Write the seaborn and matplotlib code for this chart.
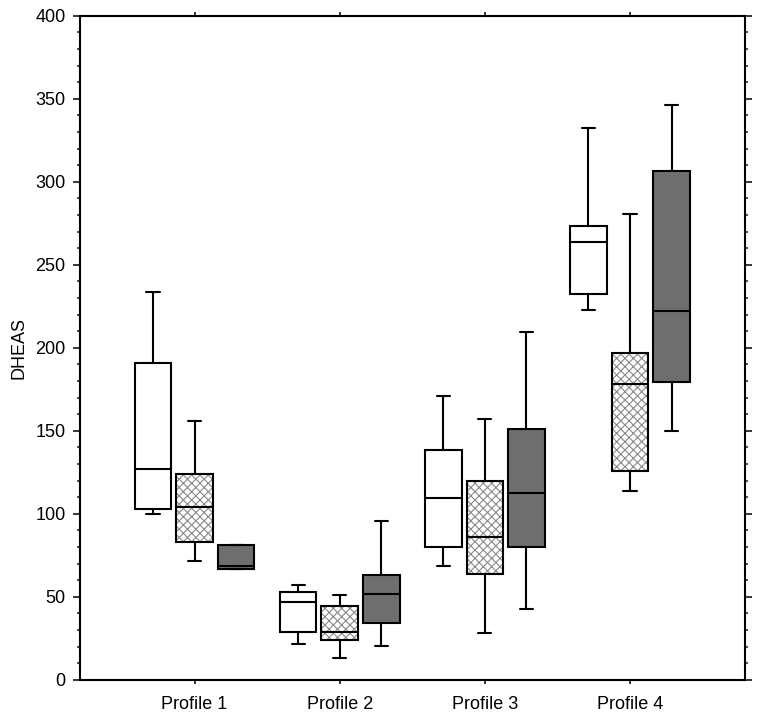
import numpy as np
import pandas as pd
import matplotlib
matplotlib.use('Agg')
import matplotlib.pyplot as plt
from matplotlib.patches import PathPatch
from matplotlib.ticker import MultipleLocator
import seaborn as sns

# categories and the three groups per profile
profiles = ['Profile 1', 'Profile 2', 'Profile 3', 'Profile 4']
groups = ['Group 1', 'Group 2', 'Group 3']

# five-number summaries: min, q1, median, q3, max
group1 = [[100.0, 103.0, 126.9, 190.8, 233.5],
          [21.7, 28.9, 46.6, 52.8, 57.2],
          [68.7, 80.1, 109.4, 138.6, 170.7],
          [222.9, 232.5, 263.7, 273.1, 332.5]]
group2 = [[71.7, 83.0, 104.0, 124.0, 156.0],
          [13.2, 23.7, 28.9, 44.6, 50.8],
          [27.9, 63.4, 86.1, 119.7, 157.0],
          [113.5, 125.9, 178.1, 196.8, 280.3]]
group3 = [[66.5, 66.5, 68.7, 80.9, 80.9],
          [20.5, 34.1, 51.8, 63.2, 95.8],
          [42.6, 80.1, 112.5, 151.0, 209.4],
          [150.0, 179.1, 222.1, 306.4, 346.0]]

rows = []
for g, summ in zip(groups, [group1, group2, group3]):
    for p, vals in zip(profiles, summ):
        for v in vals:
            rows.append({'profile': p, 'group': g, 'DHEAS': v})
df = pd.DataFrame(rows)

sns.set_theme(style='ticks')
plt.rcParams['font.family'] = ['Liberation Sans', 'DejaVu Sans']
plt.rcParams['hatch.linewidth'] = 0.8
plt.rcParams['text.color'] = 'black'
plt.rcParams['axes.labelcolor'] = 'black'

fig = plt.figure(figsize=(7.64, 7.21), dpi=100)
ax = fig.add_axes([79.5 / 764, (721 - 679.7) / 721, (745 - 79.5) / 764, (679.7 - 15.7) / 721])

sns.boxplot(data=df, x='profile', y='DHEAS', hue='group', order=profiles,
            hue_order=groups, whis=(0, 100), width=0.86, gap=0.12,
            palette=['white', 'white', '#6e6e6e'], linecolor='black',
            linewidth=1.5, saturation=1, fliersize=0, legend=False, ax=ax)

# hatch the middle boxes (gray cross-hatch, black outline on top)
box_w = 0.86 / 3 * (1 - 0.12)
for patch in list(ax.patches):
    verts = patch.get_path().vertices
    xc = verts[:, 0].mean()
    if abs(xc - round(xc)) < 0.05:
        patch.set_edgecolor('#8a8a8a')
        patch.set_hatch('xxxx')
        patch.set_linewidth(0)
        outline = PathPatch(patch.get_path(), transform=patch.get_transform(),
                            fill=False, edgecolor='black', linewidth=1.5,
                            zorder=patch.get_zorder() + 0.05)
        ax.add_patch(outline)

# shorter caps
for line in ax.lines:
    x = np.asarray(line.get_xdata(), dtype=float)
    y = np.asarray(line.get_ydata(), dtype=float)
    if len(x) == 2 and y[0] == y[1] and abs(x[1] - x[0]) < 0.8 * box_w:
        xc = x.mean()
        half = 0.36 * box_w / 2
        line.set_xdata([xc - half, xc + half])

ax.set_xlim(-0.793, 3.793)
ax.set_ylim(0, 400)
ax.yaxis.set_major_locator(MultipleLocator(50))
ax.yaxis.set_minor_locator(MultipleLocator(10))

for side in ['left', 'right', 'top', 'bottom']:
    ax.spines[side].set_visible(True)
    ax.spines[side].set_linewidth(1.5)
    ax.spines[side].set_color('black')

ax.tick_params(axis='y', which='major', direction='out', length=5, width=1.1,
               left=True, right=True, labelsize=13, pad=5, colors='black')
ax.tick_params(axis='y', which='minor', direction='out', length=2.5, width=1.1,
               left=True, right=True)
ax.tick_params(axis='x', which='major', direction='out', length=3, width=1.1,
               top=True, bottom=True, labelsize=13, pad=9, colors='black')
ax.tick_params(axis='x', which='minor', top=False, bottom=False)

ax.set_xlabel('')
ax.set_ylabel('DHEAS', fontsize=13, labelpad=6)

fig.savefig('out.png', dpi=100)
